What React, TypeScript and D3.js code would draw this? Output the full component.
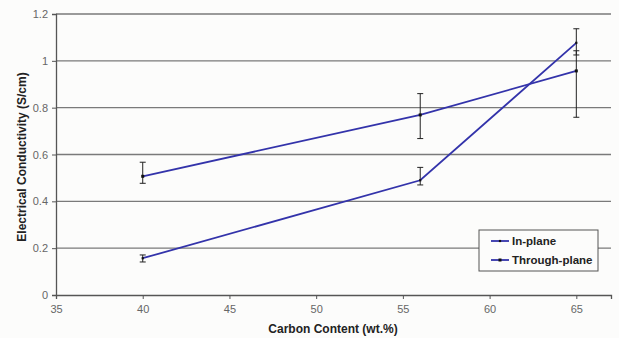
import React, { useEffect, useRef } from 'react';
import * as d3 from 'd3';

// carbon content (wt.%)
const carbon = [40, 56, 65];

// In-plane conductivity (S/cm) with error bar limits
const inPlane = [0.157, 0.49, 1.077];
const inPlaneLow = [0.141, 0.47, 1.025];
const inPlaneHigh = [0.171, 0.545, 1.137];

// Through-plane conductivity (S/cm) with error bar limits
const throughPlane = [0.507, 0.769, 0.957];
const throughLow = [0.477, 0.668, 0.759];
const throughHigh = [0.567, 0.86, 1.043];

const xTicks = [35, 40, 45, 50, 55, 60, 65];
const yTicks = [0, 0.2, 0.4, 0.6, 0.8, 1, 1.2];

const seriesNames = ['In-plane', 'Through-plane'];

const App = () => {
  const svgRef = useRef<SVGSVGElement>(null);

  useEffect(() => {
    const width = 619;
    const height = 338;
    const margin = { top: 14, right: 8, bottom: 43, left: 56 };
    const innerWidth = width - margin.left - margin.right;
    const innerHeight = height - margin.top - margin.bottom;

    d3.select(svgRef.current).selectAll('*').remove();

    const root = d3.select(svgRef.current)
      .attr('width', width)
      .attr('height', height)
      .style('font-family', 'Liberation Sans, Arial, sans-serif');

    root.append('rect')
      .attr('width', width)
      .attr('height', height)
      .attr('fill', '#fcfcfb');

    const svg = root.append('g')
      .attr('transform', `translate(${margin.left},${margin.top})`);

    const xScale = d3.scaleLinear().domain([35, 67]).range([0, innerWidth]);
    const yScale = d3.scaleLinear().domain([0, 1.2]).range([innerHeight, 0]);

    // gridlines
    svg.append('g')
      .selectAll('line')
      .data(yTicks.filter(d => d > 0))
      .enter()
      .append('line')
      .attr('x1', 0)
      .attr('x2', innerWidth)
      .attr('y1', d => yScale(d))
      .attr('y2', d => yScale(d))
      .attr('stroke', '#7a7a7a')
      .attr('stroke-width', 1.3);

    // axes
    const yAxis = svg.append('g')
      .call(d3.axisLeft(yScale).tickValues(yTicks).tickSize(4).tickPadding(4).tickFormat(d => String(d)));
    const xAxis = svg.append('g')
      .attr('transform', `translate(0,${innerHeight})`)
      .call(d3.axisBottom(xScale).tickValues(xTicks).tickSize(4).tickPadding(6).tickFormat(d => String(d)));

    [xAxis, yAxis].forEach(ax => {
      ax.select('.domain').attr('stroke', '#555').attr('stroke-width', 1.3);
      ax.selectAll('.tick line').attr('stroke', '#555');
      ax.selectAll('.tick text')
        .attr('fill', '#666')
        .style('font-size', '11px')
        .style('font-family', 'Liberation Sans, Arial, sans-serif');
    });

    // axis titles
    root.append('text')
      .attr('x', 333)
      .attr('y', 333)
      .attr('text-anchor', 'middle')
      .style('font-size', '12px')
      .style('font-weight', 'bold')
      .attr('fill', '#222')
      .text('Carbon Content (wt.%)');

    root.append('text')
      .attr('transform', `translate(26,157) rotate(-90)`)
      .attr('text-anchor', 'middle')
      .style('font-size', '12px')
      .style('font-weight', 'bold')
      .attr('fill', '#222')
      .text('Electrical Conductivity (S/cm)');

    const series = [
      { name: seriesNames[0], values: inPlane, low: inPlaneLow, high: inPlaneHigh, size: 2.2 },
      { name: seriesNames[1], values: throughPlane, low: throughLow, high: throughHigh, size: 3 },
    ];

    const line = d3.line<number>()
      .x((d, i) => xScale(carbon[i]))
      .y(d => yScale(d));

    series.forEach(s => {
      // error bars
      const eb = svg.append('g');
      carbon.forEach((c, i) => {
        const x = xScale(c);
        eb.append('line')
          .attr('x1', x).attr('x2', x)
          .attr('y1', yScale(s.low[i])).attr('y2', yScale(s.high[i]))
          .attr('stroke', '#222').attr('stroke-width', 1);
        [s.low[i], s.high[i]].forEach(v => {
          eb.append('line')
            .attr('x1', x - 3).attr('x2', x + 3)
            .attr('y1', yScale(v)).attr('y2', yScale(v))
            .attr('stroke', '#222').attr('stroke-width', 1);
        });
      });

      svg.append('path')
        .datum(s.values)
        .attr('d', line)
        .attr('fill', 'none')
        .attr('stroke', '#3333aa')
        .attr('stroke-width', 1.8);

      svg.append('g')
        .selectAll('rect')
        .data(s.values)
        .enter()
        .append('rect')
        .attr('x', (d, i) => xScale(carbon[i]) - s.size / 2)
        .attr('y', d => yScale(d) - s.size / 2)
        .attr('width', s.size)
        .attr('height', s.size)
        .attr('fill', '#111');
    });

    // legend
    const legend = root.append('g').attr('transform', 'translate(479,230)');
    legend.append('rect')
      .attr('width', 119)
      .attr('height', 41)
      .attr('fill', '#fcfcfb')
      .attr('stroke', '#555')
      .attr('stroke-width', 1);

    const item = legend.selectAll('g.item')
      .data(series)
      .enter()
      .append('g')
      .attr('class', 'item')
      .attr('transform', (d, i) => `translate(0,${11 + i * 19})`);

    item.append('line')
      .attr('x1', 12).attr('x2', 30)
      .attr('stroke', '#3333aa')
      .attr('stroke-width', 1.8);
    item.append('rect')
      .attr('x', d => 21 - d.size / 2)
      .attr('y', d => -d.size / 2)
      .attr('width', d => d.size)
      .attr('height', d => d.size)
      .attr('fill', '#111');
    item.append('text')
      .attr('x', 33)
      .attr('y', 4)
      .style('font-size', '11.5px')
      .style('font-weight', 'bold')
      .attr('fill', '#222')
      .text(d => d.name);
  }, []);

  return (
    <svg ref={svgRef} style={{ position: 'absolute', left: 0, top: 0, display: 'block' }}></svg>
  );
};

export default App;
